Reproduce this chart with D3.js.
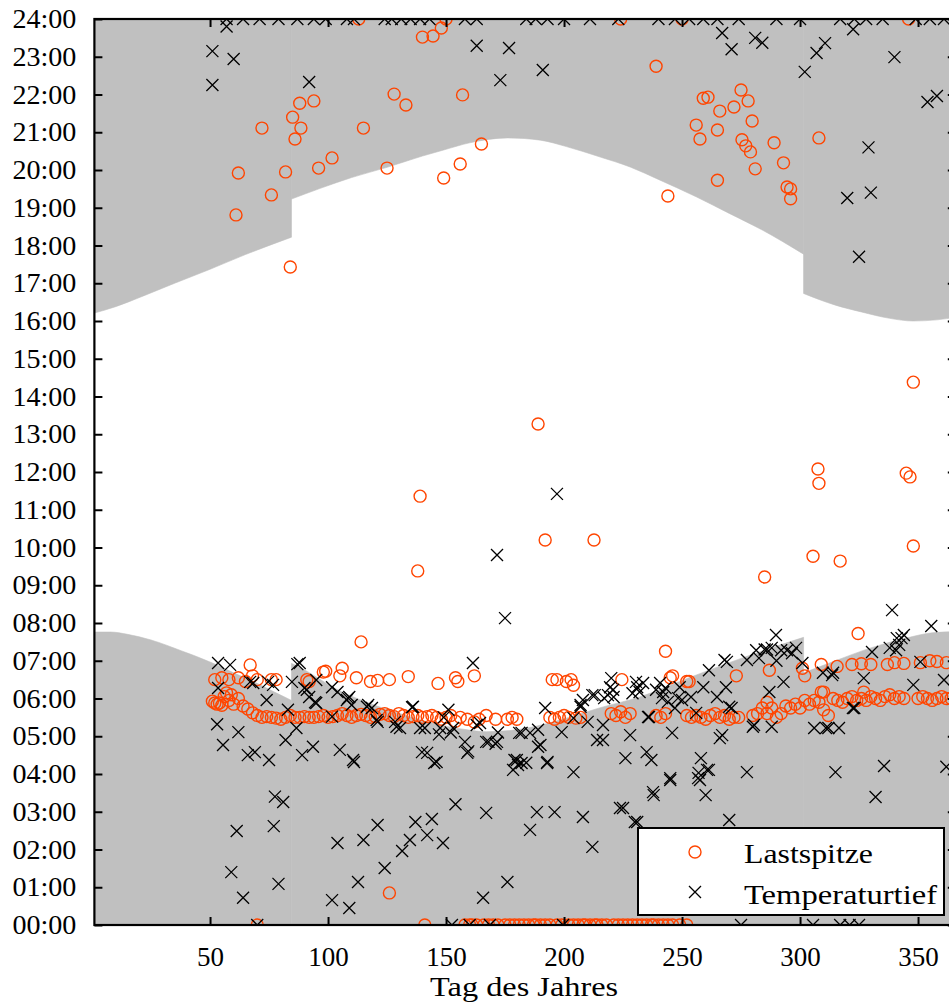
<!DOCTYPE html>
<html>
<head>
<meta charset="utf-8">
<script src="https://cdn.jsdelivr.net/npm/d3@7"></script>
<style>
  html, body { margin: 0; padding: 0; background: #fff; }
  svg { display: block; }
  svg text { font-family: 'Liberation Serif', 'DejaVu Serif', serif; fill: #000; }
</style>
</head>
<body>
<svg id="chart" width="949" height="1004"></svg>
<script>
// Sunrise / sunset (local time, hours) per day of year, split at the DST changes
const sunriseJanMar = [[1,7.76],[8,7.76],[15,7.7],[25,7.55],[38,7.26],[44,7.12],[51,6.94],[60,6.68],[70,6.4],[77,6.18],[84.5,5.95]];
const sunriseMarOct = [[84.5,6.93],[88,6.83],[95,6.57],[102,6.3],[116,5.91],[130,5.61],[145,5.34],[159,5.17],[167,5.12],[177,5.15],[187,5.25],[201,5.48],[215,5.75],[232,6.04],[253,6.55],[270,6.95],[285,7.28],[301.5,7.62]];
const sunriseOctDec = [[301.5,6.68],[315,7.0],[330,7.34],[345,7.6],[356,7.74],[366,7.77]];

const sunsetJanMar = [[1,16.21],[10,16.38],[22,16.67],[35,17.0],[50,17.37],[65,17.76],[84.5,18.22]];
const sunsetMarOct = [[84.5,19.23],[97,19.52],[110,19.8],[125,20.07],[140,20.37],[149,20.53],[160,20.72],[176,20.85],[190,20.79],[201,20.62],[215,20.35],[228,20.08],[240,19.75],[256,19.29],[270,18.85],[284,18.41],[301.5,17.77]];
const sunsetOctDec = [[301.5,16.73],[315,16.42],[326,16.24],[338,16.07],[348,16.0],[358,16.03],[366,16.1]];

// Daily load peak (day of year, hour)
const lastspitze = [
  // evening / night
  [61,18.81],[62,19.92],[72,21.11],[76,19.34],[82,19.95],[84,17.43],[85,21.4],[86,20.82],[88.5,21.11],[88,21.77],
  [94,21.83],[96,20.05],[101.7,20.32],[115,21.11],[125,20.05],[128,22.01],[133,21.72],[140,23.52],[144.5,23.55],[148,23.76],
  [149,19.79],[156,20.16],[157,21.99],[165,20.69],[239,22.75],[244,19.31],[256,21.19],[257.6,20.82],[259,21.9],[261,21.93],
  [265,21.06],[266,21.56],[265,19.73],[272,21.67],[275,22.12],[278,21.83],[275.4,20.8],[277,20.64],[279,20.48],[279.7,21.3],
  [281,20.03],[289,20.72],[293,20.19],[294.5,19.55],[296,19.5],[296,19.24],[308,20.85],
  [113,24],[150,24],[224,24],[250,24],[346,24],
  // daytime
  [285,9.22],[305.5,9.77],[317,9.64],[307.6,12.08],[308,11.7],[348,10.04],[348,14.38],[345,11.97],[346.6,11.87],
  [192,10.2],[212.7,10.2],[189,13.27],[139,11.36],[138,9.38],[126,0.85],[114,7.5],[243,7.25],[324.6,7.72],
  // morning, upper band
  [52,6.5],[55,6.55],[58,6.5],[62,6.55],[65,6.45],[67,6.89],[68,6.6],[70,6.5],[76,6.5],[78,6.5],[91,6.5],[92,6.45],
  [98,6.7],[99,6.72],[105,6.6],[106,6.8],[112,6.55],[118,6.45],[121,6.48],[126,6.5],[134,6.58],[146.6,6.4],[154,6.55],
  [155,6.45],[162,6.6],[195,6.5],[197,6.5],[201,6.45],[203,6.5],[204,6.35],[224.5,6.5],[245,6.55],[246,6.6],[252,6.45],
  [253,6.45],[273,6.6],[287,6.75],[301,6.8],[302,6.6],[309,6.9],[315.7,6.85],[322,6.9],[326,6.92],[330,6.9],[337,6.9],
  [340,6.95],[344,6.93],[351,6.95],[355,7.0],[358,6.98],[362,6.95],[310,6.17],[327,6.17],[286,5.9],[309,6.17],
  // morning, lower band
  [51,5.93],[52,5.88],[53,5.85],[54,5.88],[55,5.82],[56,6.05],[57,6.15],[58,5.95],[59,6.1],[60,5.85],[62,6.0],[64,5.8],
  [66,5.72],[68,5.62],[70,5.55],[72,5.5],[74,5.52],[76,5.5],[78,5.48],[80,5.45],[82,5.5],[84,5.55],[86,5.5],[88,5.5],
  [90,5.52],[92,5.5],[94,5.5],[96,5.52],[98,5.55],[100,5.5],[102,5.52],[104,5.55],[106,5.6],[108,5.55],[110,5.5],
  [112,5.55],[114,5.58],[116,5.55],[118,5.5],[120,5.52],[122,5.58],[124,5.6],[126,5.55],[128,5.52],[130,5.6],[132,5.55],
  [134,5.5],[136,5.52],[138,5.55],[140,5.5],[142,5.52],[144,5.55],[146,5.5],[148,5.45],[150,5.5],[152,5.55],[154,5.4],
  [156,5.5],[159,5.45],[162,5.38],[164,5.45],[167,5.55],[171,5.45],[176,5.45],[178,5.5],[180,5.45],[194,5.5],[196,5.45],
  [198,5.5],[200,5.55],[202,5.5],[205,5.48],[207,5.5],[220,5.6],[222,5.55],[224,5.65],[226,5.5],[228,5.6],[239,5.55],
  [241,5.5],[243,5.6],[252,5.55],[254,5.5],[256,5.55],[258,5.5],[260,5.45],[262,5.55],[264,5.6],[266,5.5],[268,5.55],
  [270,5.45],[272,5.5],[274,5.5],[280,5.55],[282,5.6],[284,5.75],[286,5.6],[288,5.75],[290,5.5],[292,5.6],[294,5.8],
  [296,5.75],[298,5.85],[300,5.75],[302,5.95],[304,5.85],[306,5.95],[308,5.9],[310,5.7],[312,5.55],[314,6.0],[316,5.95],
  [318,5.9],[320,6.0],[322,6.05],[324,5.95],[326,6.0],[328,5.95],[330,6.05],[332,6.0],[334,5.95],[336,6.05],[338,6.1],
  [340,6.0],[342,6.05],[344,6.0],[350,6.0],[352,6.05],[354,6.0],[356,5.95],[358,6.0],[360,6.05],[362,6.0],[364,6.0],
  // midnight
  [70,0],[141,0],[158,0],[160,0],[161,0],[163,0],[166,0],[168,0],[170,0],[172,0],[175,0],[177,0],[179,0],[181,0],
  [183,0],[185,0],[187,0],[188,0],[190,0],[192,0],[194,0],[197,0],[199,0],[202,0],[204,0],[206,0],[208,0],[209,0],
  [211,0],[213,0],[214,0],[216,0],[218,0],[221,0],[223,0],[225,0],[227,0],[229,0],[231,0],[233,0],[235,0],[237,0],
  [238,0],[240,0],[242,0],[244,0],[246,0],[249,0],[252,0]
];

// Daily temperature minimum (day of year, hour)
const temperaturtief = [
  // midnight (top edge)
  [57,24],[64,24],[71,24],[79,24],[87,24],[94,24],[99,24],[108,24],[111,24],[124,24],[127,24],[131,24],[135,24],
  [139,24],[143,24],[158,24],[163,24],[184,24],[188,24],[193,24],[200,24],[211,24],[223,24],[240,24],[247,24],
  [253,24],[259,24],[265,24],[274,24],[290,24],[300,24],[317,24],[323,24],[328,24],[335,24],[349,24],[355,24],[361,24],
  // late evening
  [51,23.15],[51,22.25],[60,22.94],[57,23.8],[92,22.33],[173,22.38],[176.7,23.23],[163,23.29],[191,22.65],[267,23.63],
  [271,23.2],[281,23.5],[284,23.37],[302,22.6],[307,23.1],[310.6,23.36],[322.5,23.73],[329,20.6],[320,19.26],
  [330,19.4],[325,17.7],[340,22.99],[354,21.8],[358,21.96],
  // daytime
  [171.6,9.8],[197,11.42],[175,8.13],[339,8.34],
  // morning
  [53.4,6.94],[58.5,6.89],[53.4,6.28],[53,5.32],[55.5,4.77],[62,5.11],[66,4.5],[69,4.58],[67,6.44],[68.3,6.41],
  [74,5.96],[75,4.37],[76.7,6.36],[74.6,6.44],[84.7,6.44],[87,6.91],[83,5.7],[82,4.9],[86.6,5.22],[89,4.5],[90,6.28],
  [92,6.04],[94.5,5.9],[93.6,4.72],[91,6.23],[95,5.88],[95,6.49],[88,6.94],[101.7,6.3],[104,6.17],[108.5,6.01],
  [110,5.83],[117,5.83],[118.6,5.75],[121,5.38],[128.4,5.38],[130.5,5.22],[135.6,5.77],[141,5.22],[139.8,4.58],
  [142,4.56],[146,4.32],[105,4.64],[110.6,4.37],[101.7,5.52],[108,5.96],[109,6.04],[111,4.32],[116.5,5.78],
  [120.6,5.43],[129,5.25],[136,5.78],[139,5.22],[145,4.29],[147.5,5.22],[151,5.7],[153,5.22],[158,4.85],[159,4.56],
  [161.4,6.94],[164.4,5.35],[167,4.85],[171.6,4.85],[178.4,4.11],[180,4.37],[182,4.29],[181,5.09],[185.6,5.09],
  [189,4.72],[192.8,4.29],[192,5.75],[199,5.11],[204,4.05],[207,5.78],[208,5.96],[212,6.09],[214,4.9],[216.5,4.9],
  [219.5,6.3],[221,6.04],[226,4.42],[228,5.03],[229,6.14],[149,5.5],[147,5.05],[152,5.1],[159.4,4.6],[163,5.3],
  [168,4.85],[171,4.8],[172,5.1],[179,4.37],[180.5,4.24],[182,5.09],[184,4.3],[190,4.77],[189,5.17],[193,4.32],
  [204,5.48],[207,5.83],[210,5.38],[213,6.09],[216.5,5.3],[217,6.01],[218.6,6.09],[220,6.54],[220.8,6.23],[231,6.3],
  [232,6.17],[233.5,6.41],[235,4.58],[237,4.37],[235.6,5.51],[239,6.23],[240.7,6.41],[242,6.17],[244,5.91],
  [245.8,5.09],[245,3.89],[247,5.75],[248.3,6.01],[249,6.3],[237.7,3.52],[230.5,6.44],[236,5.51],[241.5,6.01],
  [243,6.28],[250,5.96],[253.8,6.04],[256,5.62],[257,4.03],[258,4.42],[261.4,4.11],[261.4,6.75],[259,6.3],
  [264.8,6.04],[267,5.03],[269,6.97],[268.6,6.3],[271,5.75],[277.5,7.02],[277.5,4.05],[280.5,5.3],[281.4,7.28],
  [282.6,7.07],[287,6.17],[288,5.25],[288,7.34],[289.8,7.68],[292,7.28],[293,6.44],[294.5,7.28],[296.6,7.2],
  [298.3,7.34],[301,6.94],[290,7.0],[306,5.22],[311,5.22],[312,5.22],[315,4.05],[316.5,5.22],[313.6,6.62],[323,5.75],
  [327,6.54],[335.6,4.21],[340.7,7.28],[342,7.42],[343,7.6],[344,7.68],[348,6.36],[351,6.97],[355.6,7.92],[361,6.49],
  [362,4.19],[268,7.02],[270,5.78],[266,4.95],[280,5.25],[285,7.3],[330.5,7.23],[338,7.34],[341,7.6],[256.8,3.89],
  [260.6,4.11],[309.7,6.68],[314,6.68],[322.4,5.75],[286,7.3],
  // small hours
  [77.5,3.4],[81,3.26],[77,2.62],[61.3,2.49],[59,1.4],[64,0.72],[79,1.09],[230,2.73],[223.7,3.1],[208,2.86],
  [212,2.07],[196,2.99],[188.5,2.99],[185.6,2.52],[176,1.14],[165.7,0.72],[154,3.2],[167,2.97],[148.7,2.17],
  [144,2.81],[142,2.38],[137,2.73],[134.7,2.25],[131.4,1.96],[124,1.51],[121,2.65],[115,2.25],[112.7,1.14],
  [104,2.17],[101.7,0.66],[109,0.45],[225,3.1],[231,2.73],[238,3.44],[245,3.84],[257.6,3.84],[260,3.44],[270,2.78],
  [332,3.39],
  // midnight (bottom edge)
  [70,0],[152.5,0],[160,0],[168.6,0],[199.6,0],[275,0],[305.5,0],[317,0],[321,0],[325,0]
];

const xTicks = [50, 100, 150, 200, 250, 300, 350];
const hourTicks = d3.range(0, 25);
const seriesNames = ["Lastspitze", "Temperaturtief"];
const xTitle = "Tag des Jahres";

const peakColor = "#ff4500";
const nightColor = "#c0c0c0";
const fontSize = 27;

const svg = d3.select("#chart");
const plotLeft = 94.4, plotRight = 955.8, plotTop = 19, plotBottom = 925;

const x = d3.scaleLinear().domain([1, 366]).range([plotLeft, plotRight]);
const y = d3.scaleLinear().domain([0, 24]).range([plotBottom, plotTop]);

svg.append("defs").append("clipPath").attr("id", "plotClip")
  .append("rect").attr("x", plotLeft).attr("y", plotTop)
  .attr("width", plotRight - plotLeft).attr("height", plotBottom - plotTop);

const plot = svg.append("g").attr("clip-path", "url(#plotClip)");

// Night shading: from midnight to sunrise, and from sunset to midnight
const morningArea = d3.area().curve(d3.curveMonotoneX)
  .x(d => x(d[0])).y0(y(0)).y1(d => y(d[1]));
const eveningArea = d3.area().curve(d3.curveMonotoneX)
  .x(d => x(d[0])).y0(y(24)).y1(d => y(d[1]));

[sunriseJanMar, sunriseMarOct, sunriseOctDec].forEach(seg =>
  plot.append("path").attr("d", morningArea(seg)).attr("fill", nightColor).attr("stroke", nightColor).attr("stroke-width", 0.6));
[sunsetJanMar, sunsetMarOct, sunsetOctDec].forEach(seg =>
  plot.append("path").attr("d", eveningArea(seg)).attr("fill", nightColor).attr("stroke", nightColor).attr("stroke-width", 0.6));

// Markers
const crossPath = "M-6,-6L6,6M-6,6L6,-6";

plot.append("g").selectAll("circle").data(lastspitze).join("circle")
  .attr("cx", d => x(d[0])).attr("cy", d => y(d[1])).attr("r", 6)
  .attr("fill", "none").attr("stroke", peakColor).attr("stroke-width", 1.4);

plot.append("g").selectAll("path").data(temperaturtief).join("path")
  .attr("transform", d => `translate(${x(d[0])},${y(d[1])})`)
  .attr("d", crossPath).attr("fill", "none").attr("stroke", "#000").attr("stroke-width", 1.3);

// Axes (ticks pointing inward on all four sides)
const fmtHour = h => String(h).padStart(2, "0") + ":00";
const tickLen = 8;

const gLeft = svg.append("g").attr("transform", `translate(${plotLeft},0)`)
  .call(d3.axisLeft(y).tickValues(hourTicks).tickFormat(fmtHour).tickSize(-tickLen).tickPadding(18));
const gRight = svg.append("g").attr("transform", `translate(${plotRight},0)`)
  .call(d3.axisRight(y).tickValues(hourTicks).tickFormat("").tickSize(-tickLen));
const gBottom = svg.append("g").attr("transform", `translate(0,${plotBottom})`)
  .call(d3.axisBottom(x).tickValues(xTicks).tickFormat(d3.format("d")).tickSize(-tickLen).tickPadding(22));
const gTop = svg.append("g").attr("transform", `translate(0,${plotTop})`)
  .call(d3.axisTop(x).tickValues(xTicks).tickFormat("").tickSize(-tickLen));

[gLeft, gRight, gBottom, gTop].forEach(g => {
  g.attr("font-family", null).attr("font-size", null);
  g.select(".domain").remove();
  g.selectAll(".tick line").attr("stroke", "#000").attr("stroke-width", 2);
  g.selectAll(".tick text").style("font-size", fontSize + "px").attr("fill", "#000");
});
gLeft.selectAll(".tick text").attr("textLength", 64).attr("lengthAdjust", "spacingAndGlyphs");

// Frame
svg.append("rect").attr("x", plotLeft).attr("y", plotTop)
  .attr("width", plotRight - plotLeft).attr("height", plotBottom - plotTop)
  .attr("fill", "none").attr("stroke", "#000").attr("stroke-width", 2.2);

// Axis title
svg.append("text").attr("x", (plotLeft + plotRight) / 2 - 1).attr("y", 996)
  .attr("text-anchor", "middle").style("font-size", fontSize + "px")
  .attr("textLength", 188).attr("lengthAdjust", "spacingAndGlyphs")
  .text(xTitle);

// Legend
const lg = svg.append("g");
lg.append("rect").attr("x", 638).attr("y", 828).attr("width", 306).attr("height", 87)
  .attr("fill", "#fff").attr("stroke", "#000").attr("stroke-width", 2);
lg.append("circle").attr("cx", 695).attr("cy", 852).attr("r", 6)
  .attr("fill", "none").attr("stroke", peakColor).attr("stroke-width", 1.4);
lg.append("path").attr("transform", "translate(695,892)").attr("d", crossPath)
  .attr("fill", "none").attr("stroke", "#000").attr("stroke-width", 1.3);
lg.append("text").attr("x", 744).attr("y", 863).style("font-size", fontSize + "px")
  .attr("textLength", 129).attr("lengthAdjust", "spacingAndGlyphs").text(seriesNames[0]);
lg.append("text").attr("x", 744).attr("y", 904).style("font-size", fontSize + "px")
  .attr("textLength", 193).attr("lengthAdjust", "spacingAndGlyphs").text(seriesNames[1]);
</script>
</body>
</html>
